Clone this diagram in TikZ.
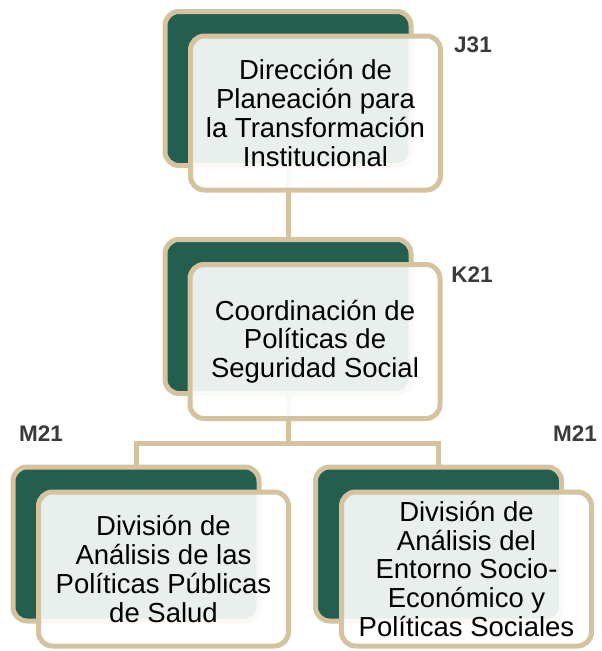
\documentclass[tikz,border=0pt]{standalone}
\usepackage{fontspec}
\setmainfont{Liberation Sans}
\definecolor{dgreen}{HTML}{245E4F}
\definecolor{tan}{HTML}{D5C29F}
\definecolor{lblgray}{HTML}{3A3A3A}
\begin{document}
\begin{tikzpicture}[x=1pt,y=-1pt,
  backbox/.style={draw=tan,line width=5pt,fill=dgreen,rounded corners=14pt,
    minimum width=246pt,minimum height=154pt,inner sep=0pt},
  frontbox/.style={draw=tan,line width=5pt,fill=white,fill opacity=0.9,text opacity=1,
    rounded corners=14pt,minimum width=250pt,minimum height=154pt,inner sep=0pt,
    align=center,font=\fontsize{27.5}{28.7}\selectfont},
  conn/.style={draw=tan,line width=5pt},
  code/.style={font=\fontsize{22.5}{24}\selectfont\bfseries,text=lblgray,inner sep=0pt}]
\useasboundingbox (0,0) rectangle (602,651);
% back boxes
\node[backbox] (topback) at (288,88.5) {};
\node[backbox] (midback) at (288,316.5) {};
\node[backbox] (blback) at (136,544) {};
\node[backbox] (brback) at (438.5,544) {};
% connectors (behind front boxes)
\coordinate (j) at (288,443);
\draw[conn] (topback.south) -- (midback.north);
\draw[conn] (midback.south) -- (j);
\draw[conn] (blback.north) |- (j) -| (brback.north);
% front boxes
\node[frontbox] (topfront) at (315.5,113) {Dirección de\\Planeación para\\la Transformación\\Institucional};
\node[frontbox] (midfront) at (315,341.5) {Coordinación de\\Políticas de\\Seguridad Social};
\node[frontbox] (blfront) at (163.5,569) {División de\\Análisis de las\\Políticas Públicas\\de Salud};
\node[frontbox] (brfront) at (466.5,569) {División de\\Análisis del\\Entorno Socio-\\Económico y\\Políticas Sociales};
% labels
\node[code] (lj) at (473,45) {J31};
\node[code] (lk) at (472,275) {K21};
\node[code] (lm1) at (41,434) {M21};
\node[code] (lm2) at (575,434) {M21};
\end{tikzpicture}
\end{document}
